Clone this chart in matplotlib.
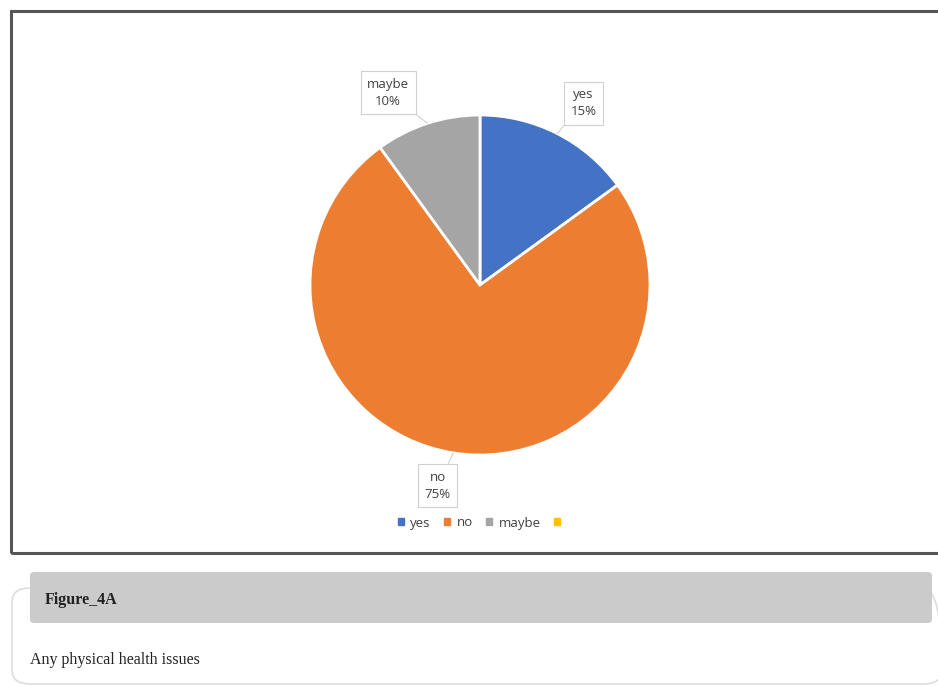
import numpy as np
import matplotlib.pyplot as plt
import matplotlib.patches as mpatches
from matplotlib.patches import FancyBboxPatch, Rectangle

# chart data
categories = ['yes', 'no', 'maybe', '']
values = [15, 75, 10, 0]
colors = ['#4472C4', '#ED7D31', '#A5A5A5', '#FFC000']
label_pos = [(0.61, 1.07), (-0.25, -1.18), (-0.54, 1.13)]

W, H = 938, 686
fig = plt.figure(figsize=(W / 100, H / 100), dpi=100)
fig.patch.set_facecolor('white')

# outer chart frame (runs off the right edge)
fig.patches.append(Rectangle((11 / W, 1 - 553 / H), 940 / W, 542 / H,
                             transform=fig.transFigure, fill=False,
                             edgecolor='#555555', linewidth=2.2))

# pie axes: centre (480, 285) px, radius 170 px
cx, cy, r = 480, 285, 170
ax = fig.add_axes([(cx - r) / W, 1 - (cy + r) / H, 2 * r / W, 2 * r / H])
shown = [v for v in values if v > 0]
wedges, _ = ax.pie(shown, colors=colors[:len(shown)], startangle=90,
                   counterclock=False, radius=1,
                   wedgeprops=dict(edgecolor='white', linewidth=2))
ax.set_xlim(-1, 1)
ax.set_ylim(-1, 1)
ax.axis('off')

# callout labels
total = sum(shown)
start = 90
for i, v in enumerate(shown):
    frac = v / total
    mid = start - frac * 360 / 2
    start -= frac * 360
    px, py = np.cos(np.radians(mid)), np.sin(np.radians(mid))
    ax.annotate(f'{categories[i]}\n{v}%', xy=(px, py), xytext=label_pos[i],
                ha='center', va='center', fontsize=9.5, family='Open Sans',
                color='#404040', linespacing=1.4, annotation_clip=False,
                bbox=dict(boxstyle='square,pad=0.5', fc='white',
                          ec='#D0D0D0', lw=0.8),
                arrowprops=dict(arrowstyle='-', color='#D0D0D0', lw=0.8,
                                shrinkA=0, shrinkB=0))

# legend including the empty yellow entry
handles = [mpatches.Patch(color=c, label=l) for c, l in zip(colors, categories)]
fig.legend(handles=handles, loc='center', bbox_to_anchor=(482 / W, 1 - 523 / H),
           ncol=4, frameon=False, handlelength=0.45, handleheight=0.45,
           handletextpad=0.5, columnspacing=1.0,
           prop=dict(family='Open Sans', size=9.5), labelcolor='#404040')

# caption block below the chart
fig.patches.append(FancyBboxPatch((12 / W, 1 - 684 / H), 930 / W, 96 / H,
                                  boxstyle='round,pad=0,rounding_size=0.02',
                                  transform=fig.transFigure, fill=False,
                                  edgecolor='#DDDDDD', linewidth=1.2))
fig.patches.append(FancyBboxPatch((30 / W, 1 - 623 / H), 902 / W, 51 / H,
                                  boxstyle='round,pad=0,rounding_size=0.005',
                                  transform=fig.transFigure,
                                  facecolor='#CBCBCB', edgecolor='none'))
fig.text(45 / W, 1 - 600 / H, 'Figure_4A', family='Liberation Serif',
         weight='bold', fontsize=11.5, color='#222222', va='center')
fig.text(30 / W, 1 - 660 / H, 'Any physical health issues',
         family='Liberation Serif', fontsize=11.5, color='#222222', va='center')

fig.savefig('out.png', dpi=100)
